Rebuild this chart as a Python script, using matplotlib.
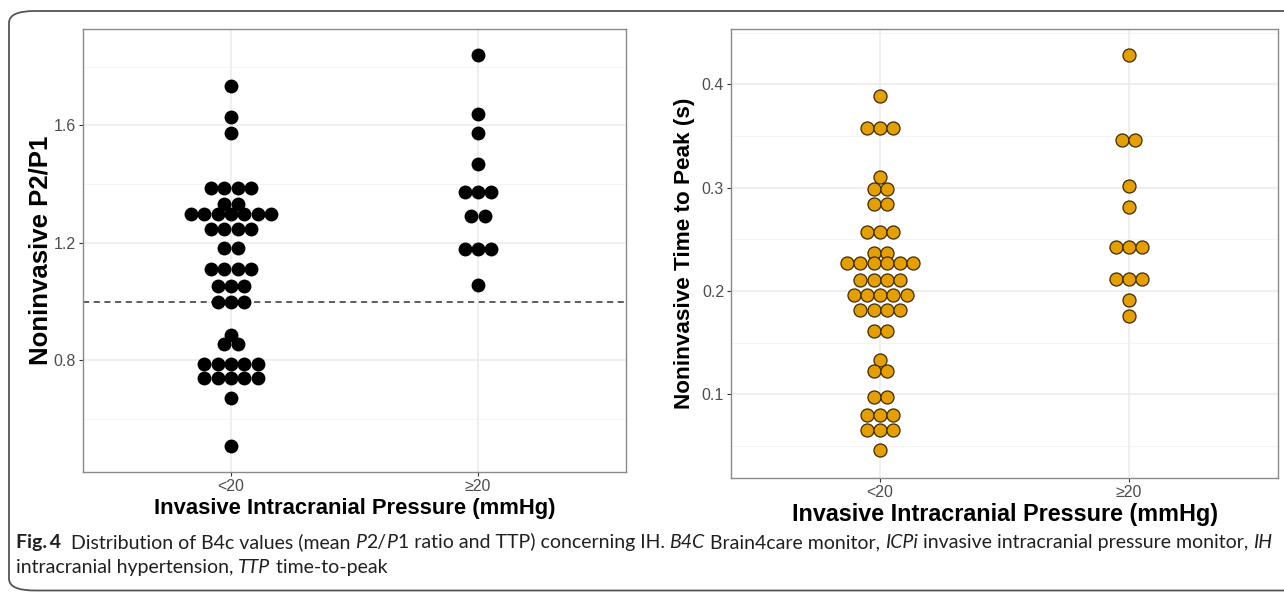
import matplotlib
matplotlib.use("Agg")
import matplotlib.pyplot as plt
from matplotlib.patches import FancyBboxPatch
from collections import Counter

W, H = 1284, 592

# ---------------- data ----------------
groups = ["<20", "\u226520"]

p2p1_low = [1.735, 1.628, 1.575,
            1.388, 1.388, 1.388, 1.388,
            1.333, 1.333,
            1.298, 1.298, 1.298, 1.298, 1.298, 1.298, 1.298,
            1.247, 1.247, 1.247, 1.247,
            1.184, 1.184,
            1.111, 1.111, 1.111, 1.111,
            1.054, 1.054, 1.054,
            0.998, 0.998, 0.998,
            0.887,
            0.855, 0.855,
            0.788, 0.788, 0.788, 0.788, 0.788,
            0.741, 0.741, 0.741, 0.741, 0.741,
            0.671, 0.509]
p2p1_high = [1.841, 1.638, 1.573, 1.469,
             1.375, 1.375, 1.375,
             1.292, 1.292,
             1.179, 1.179, 1.179,
             1.057]

ttp_low = [0.389,
           0.358, 0.358, 0.358,
           0.310,
           0.299, 0.299,
           0.284, 0.284,
           0.257, 0.257, 0.257,
           0.237, 0.237,
           0.227, 0.227, 0.227, 0.227, 0.227, 0.227,
           0.211, 0.211, 0.211, 0.211,
           0.196, 0.196, 0.196, 0.196, 0.196,
           0.182, 0.182, 0.182, 0.182,
           0.161, 0.161,
           0.133,
           0.123, 0.123,
           0.097, 0.097,
           0.080, 0.080, 0.080,
           0.065, 0.065, 0.065,
           0.046]
ttp_high = [0.428,
            0.346, 0.346,
            0.302, 0.281,
            0.243, 0.243, 0.243,
            0.212, 0.212, 0.212,
            0.191, 0.176]

threshold = 1.0
left_yticks = [0.8, 1.2, 1.6]
right_yticks = [0.1, 0.2, 0.3, 0.4]

xlabel = "Invasive Intracranial Pressure (mmHg)"
ylabel_left = "Noninvasive P2/P1"
ylabel_right = "Noninvasive Time to Peak (s)"

# ---------------- figure ----------------
fig = plt.figure(figsize=(W / 100, H / 100), dpi=100)
fig.patch.set_facecolor("white")

FONT = ["Liberation Sans", "DejaVu Sans"]


def px_axes(l, t, r, b):
    return fig.add_axes([l / W, (H - b) / H, (r - l) / W, (b - t) / H])


def swarm(ax, pos, values, spacing, **kw):
    counts = Counter(values)
    xs, ys = [], []
    for v, n in counts.items():
        for i in range(n):
            xs.append(pos + (i - (n - 1) / 2) * spacing)
            ys.append(v)
    ax.scatter(xs, ys, zorder=3, clip_on=False, **kw)


def style_axes(ax, ylim, yticks, minor, xl_size, xl_pad):
    ax.set_xlim(0.4, 2.6)
    ax.set_ylim(*ylim)
    ax.set_xticks([1, 2])
    ax.set_xticklabels(groups, family=FONT, fontsize=11.5, color="#4D4D4D")
    ax.set_yticks(yticks)
    ax.set_yticklabels([f"{t:.1f}" for t in yticks], family=FONT,
                       fontsize=11.5, color="#4D4D4D")
    ax.set_yticks(minor, minor=True)
    ax.tick_params(axis="both", which="major", length=3, width=0.8,
                   color="#333333", pad=2)
    ax.tick_params(axis="y", which="minor", length=0)
    ax.grid(True, which="major", color="#EBEBEB", linewidth=1.1, zorder=0)
    ax.grid(True, which="minor", axis="y", color="#F2F2F2", linewidth=0.6,
            zorder=0)
    ax.set_axisbelow(True)
    for s in ax.spines.values():
        s.set_color("#8A8A8A")
        s.set_linewidth(1.0)
    ax.set_xlabel(xlabel, family=FONT, fontsize=xl_size, fontweight="bold",
                  labelpad=xl_pad)


# Left panel
ax1 = px_axes(83, 29, 626, 472)
style_axes(ax1, (0.4204, 1.9285), left_yticks, [0.6, 1.0, 1.4, 1.8], 15.8, 3.0)
ax1.axhline(threshold, color="#333333", linestyle=(0, (4, 3)), linewidth=1.1,
            zorder=2)
swarm(ax1, 1, p2p1_low, 0.054, s=100, color="black", linewidths=0)
swarm(ax1, 2, p2p1_high, 0.054, s=100, color="black", linewidths=0)
ax1.set_ylabel(ylabel_left, family=FONT, fontsize=18.5, fontweight="bold",
               labelpad=1)

# Right panel
ax2 = px_axes(731, 29, 1278, 478)
style_axes(ax2, (0.019, 0.4536), right_yticks, [0.05, 0.15, 0.25, 0.35, 0.45],
           16.8, 2.0)
swarm(ax2, 1, ttp_low, 0.053, s=88, color="#E69F00", edgecolors="#3B2A05",
      linewidths=0.9)
swarm(ax2, 2, ttp_high, 0.053, s=88, color="#E69F00", edgecolors="#3B2A05",
      linewidths=0.9)
ax2.set_ylabel(ylabel_right, family=FONT, fontsize=16.2, fontweight="bold",
               labelpad=5)

# Outer rounded frame
frame = FancyBboxPatch((9 / W, 1.5 / H), (1400 - 9) / W, (581 - 1.5) / H,
                       boxstyle="round,pad=0,rounding_size=0.02",
                       transform=fig.transFigure, fill=False,
                       edgecolor="#555555", linewidth=1.3, zorder=0)
fig.patches.append(frame)

# ---------------- caption ----------------
CAP = ["Lato", "DejaVu Sans"]
line1 = [("Fig.\u20094", "bold", "normal"),
         ("  Distribution of B4c values (mean ", "normal", "normal"),
         ("P", "normal", "italic"), ("2/", "normal", "normal"),
         ("P", "normal", "italic"), ("1 ratio and TTP) concerning IH. ", "normal", "normal"),
         ("B4C", "normal", "italic"), (" Brain4care monitor, ", "normal", "normal"),
         ("ICPi", "normal", "italic"),
         (" invasive intracranial pressure monitor, ", "normal", "normal"),
         ("IH", "normal", "italic")]
line2 = [("intracranial hypertension, ", "normal", "normal"),
         ("TTP", "normal", "italic"), (" time-to-peak", "normal", "normal")]

renderer = fig.canvas.get_renderer()


def measure(runs, size):
    total = 0
    for txt, wt, st in runs:
        t = fig.text(0, 0, txt.replace(" ", "\u00a0"), family=CAP, fontsize=size,
                     fontweight=wt, fontstyle=st)
        total += t.get_window_extent(renderer).width
        t.remove()
    return total


def draw_runs(runs, x0, ybase, size):
    x = x0
    for txt, wt, st in runs:
        t = fig.text(x / W, (H - ybase) / H, txt.replace(" ", "\u00a0"),
                     family=CAP, fontsize=size, fontweight=wt, fontstyle=st,
                     va="baseline", ha="left", color="#231F20")
        x += t.get_window_extent(renderer).width


base = 12.0
w = measure(line1, base)
cap_size = base * (1266 - 16) / w
draw_runs(line1, 16, 548, cap_size)
draw_runs(line2, 16, 573, cap_size)

fig.savefig("out.png", dpi=100, facecolor="white")
